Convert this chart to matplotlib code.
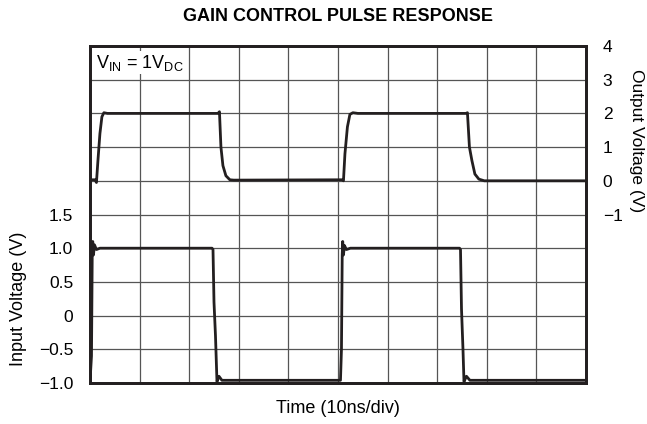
import matplotlib
matplotlib.use("Agg")
import matplotlib.pyplot as plt

plt.rcParams['font.family'] = ['Liberation Sans', 'DejaVu Sans']
plt.rcParams['mathtext.default'] = 'regular'

# time in ns (10 ns/div), traces
t_in = [0.0, 0.3, 0.45, 0.55, 0.7, 0.9, 1.3, 2.0, 24.6, 24.8, 25.0, 25.3, 25.6, 26.0, 26.6,
        50.5, 50.7, 50.85, 50.95, 51.1, 51.3, 51.7, 52.5, 74.5, 74.7, 74.9, 75.2, 75.4, 75.9, 76.6, 100.0]
v_in = [-0.98, -0.6, 0.9, 1.1, 0.9, 1.05, 0.98, 1.0, 1.0, 0.98, 0.2, -0.3, -0.98, -0.9, -0.96,
        -0.96, -0.5, 0.9, 1.1, 0.9, 1.04, 0.98, 1.0, 1.0, 0.98, 0.1, -0.5, -0.98, -0.9, -0.96, -0.96]

t_out = [0.0, 1.0, 1.3, 1.6, 2.0, 2.4, 2.8, 3.5, 25.8, 26.1, 26.4, 26.8, 27.4, 28.2, 29.0,
         50.8, 51.1, 51.4, 51.9, 52.4, 53.0, 54.0, 75.8, 76.1, 76.5, 77.0, 77.6, 78.4, 79.5, 100.0]
v_out = [0.03, 0.03, -0.05, 0.6, 1.4, 1.9, 2.02, 2.0, 2.0, 2.05, 1.0, 0.45, 0.15, 0.03, 0.02,
         0.03, 0.0, 0.8, 1.6, 1.97, 2.02, 2.0, 2.0, 2.02, 1.0, 0.6, 0.2, 0.05, 0.0, 0.0]

in_ticks = [-1.0, -0.5, 0, 0.5, 1.0, 1.5]
in_labels = ['\u22121.0', '\u22120.5', '0', '0.5', '1.0', '1.5']
out_ticks = [-1, 0, 1, 2, 3, 4]
out_labels = ['\u22121', '0', '1', '2', '3', '4']

fig = plt.figure(figsize=(6.47, 4.24), dpi=100)
ax = fig.add_axes([0.1391, 0.0967, 0.7666, 0.7948])
ax2 = ax.twinx()

ax.set_xlim(0, 100)
ax.set_ylim(-1.0, 4.0)
ax2.set_ylim(-6, 4)

# grid: 10 x 10 divisions
for i in range(1, 10):
    ax.axvline(i * 10, color='#555555', lw=0.9, zorder=1)
    ax.axhline(-1.0 + i * 0.5, color='#555555', lw=0.9, zorder=1)

ax.plot(t_in, v_in, color='#231f20', lw=2.0, zorder=3)
ax2.plot(t_out, v_out, color='#231f20', lw=2.0, zorder=3)

ax.set_xticks([])
ax.set_yticks(in_ticks)
ax.set_yticklabels(in_labels)
ax2.set_yticks(out_ticks)
ax2.set_yticklabels(out_labels)
ax.tick_params(axis='y', length=0, pad=12, labelsize=12.5)
ax2.tick_params(axis='y', length=0, pad=12, labelsize=12.5)

for a in (ax, ax2):
    for s in a.spines.values():
        s.set_linewidth(2.0)
        s.set_color('#231f20')

ax.set_xlabel('Time (10ns/div)', fontsize=13, labelpad=12)
ax.set_ylabel('Input Voltage (V)', fontsize=13)
ax.yaxis.set_label_coords(-0.127, 0.25)
ax2.set_ylabel('Output Voltage (V)', fontsize=12.5, rotation=-90, va='center')
ax2.yaxis.set_label_coords(1.102, 0.72)

ax.text(1.2, 3.9, r'V$_{IN}$ = 1V$_{DC}$', fontsize=13, va='top', ha='left', zorder=4,
        bbox=dict(facecolor='white', edgecolor='none', pad=1))

fig.suptitle('GAIN CONTROL PULSE RESPONSE', fontsize=13, fontweight='bold', x=0.522, y=0.981, va='top')

fig.savefig('out.png', dpi=100)
